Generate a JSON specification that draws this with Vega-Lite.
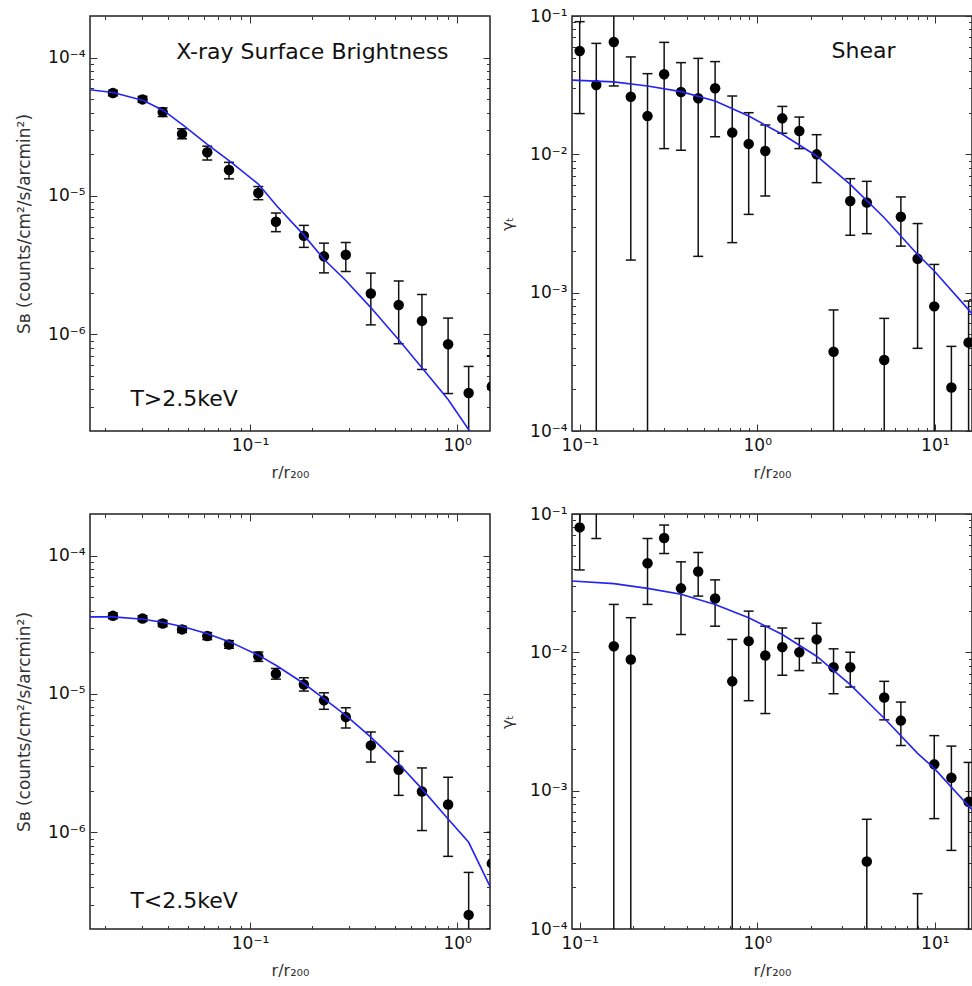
{
  "$schema": "https://vega.github.io/schema/vega-lite/v6.json",
  "padding": {"left": 14, "top": 6, "right": 0, "bottom": 0},
  "background": "white",
  "config": {
    "font": "DejaVu Sans",
    "view": {"stroke": "#222", "strokeWidth": 1.5},
    "axis": {"domain": false, "grid": false, "labelFont": "DejaVu Sans", "labelFontSize": 17, "labelColor": "#111", "tickColor": "#333", "tickWidth": 1, "titleFont": "DejaVu Sans", "titleFontWeight": "normal", "titleFontSize": 16, "titleColor": "#333", "labelFlush": false, "labelOverlap": false}
  },
  "datasets": {
    "sbHot": [
      {"r": 0.0218, "v": 5.55e-5, "lo": 5.3e-5, "hi": 5.8e-5},
      {"r": 0.0303, "v": 4.99e-5, "lo": 4.75e-5, "hi": 5.25e-5},
      {"r": 0.0379, "v": 4.04e-5, "lo": 3.75e-5, "hi": 4.33e-5},
      {"r": 0.047, "v": 2.81e-5, "lo": 2.59e-5, "hi": 3.06e-5},
      {"r": 0.0622, "v": 2.07e-5, "lo": 1.82e-5, "hi": 2.29e-5},
      {"r": 0.0792, "v": 1.54e-5, "lo": 1.33e-5, "hi": 1.75e-5},
      {"r": 0.1097, "v": 1.05e-5, "lo": 9.4e-6, "hi": 1.17e-5},
      {"r": 0.1334, "v": 6.52e-6, "lo": 5.52e-6, "hi": 7.53e-6},
      {"r": 0.182, "v": 5.16e-6, "lo": 4.25e-6, "hi": 6.13e-6},
      {"r": 0.2275, "v": 3.66e-6, "lo": 2.78e-6, "hi": 4.56e-6},
      {"r": 0.29, "v": 3.76e-6, "lo": 2.84e-6, "hi": 4.61e-6},
      {"r": 0.383, "v": 1.97e-6, "lo": 1.17e-6, "hi": 2.77e-6},
      {"r": 0.522, "v": 1.63e-6, "lo": 8.55e-7, "hi": 2.43e-6},
      {"r": 0.676, "v": 1.25e-6, "lo": 5.57e-7, "hi": 1.94e-6},
      {"r": 0.904, "v": 8.47e-7, "lo": 3.73e-7, "hi": 1.31e-6},
      {"r": 1.136, "v": 3.76e-7, "lo": 1e-8, "hi": 5.86e-7},
      {"r": 1.47, "v": 4.2e-7, "lo": 1e-7, "hi": 7.0e-7}
    ],
    "sbCool": [
      {"r": 0.0218, "v": 3.67e-5, "lo": 3.5e-5, "hi": 3.85e-5},
      {"r": 0.0303, "v": 3.51e-5, "lo": 3.35e-5, "hi": 3.68e-5},
      {"r": 0.0379, "v": 3.23e-5, "lo": 3.07e-5, "hi": 3.4e-5},
      {"r": 0.047, "v": 2.93e-5, "lo": 2.78e-5, "hi": 3.09e-5},
      {"r": 0.0622, "v": 2.62e-5, "lo": 2.47e-5, "hi": 2.78e-5},
      {"r": 0.0792, "v": 2.28e-5, "lo": 2.14e-5, "hi": 2.43e-5},
      {"r": 0.1097, "v": 1.87e-5, "lo": 1.72e-5, "hi": 2.01e-5},
      {"r": 0.1334, "v": 1.40e-5, "lo": 1.28e-5, "hi": 1.53e-5},
      {"r": 0.182, "v": 1.17e-5, "lo": 1.05e-5, "hi": 1.31e-5},
      {"r": 0.2275, "v": 8.99e-6, "lo": 7.75e-6, "hi": 1.02e-5},
      {"r": 0.29, "v": 6.81e-6, "lo": 5.67e-6, "hi": 7.96e-6},
      {"r": 0.383, "v": 4.25e-6, "lo": 3.22e-6, "hi": 5.31e-6},
      {"r": 0.522, "v": 2.83e-6, "lo": 1.85e-6, "hi": 3.85e-6},
      {"r": 0.676, "v": 1.97e-6, "lo": 1.03e-6, "hi": 2.92e-6},
      {"r": 0.904, "v": 1.59e-6, "lo": 6.7e-7, "hi": 2.5e-6},
      {"r": 1.136, "v": 2.53e-7, "lo": 1e-8, "hi": 5.13e-7},
      {"r": 1.47, "v": 5.96e-7, "lo": 2e-7, "hi": 1.0e-6}
    ],
    "shHot": [
      {"r": 0.1, "v": 0.0558, "lo": 0.0197, "hi": 0.091},
      {"r": 0.124, "v": 0.0317, "lo": 1e-6, "hi": 0.0634},
      {"r": 0.1556, "v": 0.0649, "lo": 0.0312, "hi": 0.105},
      {"r": 0.194, "v": 0.0261, "lo": 0.00172, "hi": 0.0506},
      {"r": 0.241, "v": 0.0189, "lo": 1e-6, "hi": 0.0383},
      {"r": 0.299, "v": 0.0379, "lo": 0.011, "hi": 0.0645},
      {"r": 0.372, "v": 0.0282, "lo": 0.0107, "hi": 0.046},
      {"r": 0.465, "v": 0.0254, "lo": 0.00183, "hi": 0.0494},
      {"r": 0.579, "v": 0.030, "lo": 0.0134, "hi": 0.0468},
      {"r": 0.723, "v": 0.01436, "lo": 0.0023, "hi": 0.0264},
      {"r": 0.895, "v": 0.0119, "lo": 0.00368, "hi": 0.02},
      {"r": 1.11, "v": 0.01056, "lo": 0.005, "hi": 0.0163},
      {"r": 1.384, "v": 0.0182, "lo": 0.0142, "hi": 0.0222},
      {"r": 1.726, "v": 0.01476, "lo": 0.011, "hi": 0.0186},
      {"r": 2.16, "v": 0.01, "lo": 0.00624, "hi": 0.01387},
      {"r": 2.69, "v": 3.74e-4, "lo": 1e-6, "hi": 7.5e-4},
      {"r": 3.34, "v": 0.0046, "lo": 0.0026, "hi": 0.00667},
      {"r": 4.14, "v": 0.00448, "lo": 0.00267, "hi": 0.00638},
      {"r": 5.19, "v": 3.26e-4, "lo": 1e-6, "hi": 6.52e-4},
      {"r": 6.44, "v": 0.00354, "lo": 0.00217, "hi": 0.00492},
      {"r": 8.0, "v": 0.00176, "lo": 3.96e-4, "hi": 0.00316},
      {"r": 9.93, "v": 7.96e-4, "lo": 1e-6, "hi": 0.0016},
      {"r": 12.4, "v": 2.06e-4, "lo": 1e-6, "hi": 4.09e-4},
      {"r": 15.5, "v": 4.36e-4, "lo": 1e-6, "hi": 8.7e-4}
    ],
    "shCool": [
      {"r": 0.1, "v": 0.080, "lo": 0.0394, "hi": 0.13},
      {"r": 0.124, "v": 0.14, "lo": 0.0665, "hi": 0.25},
      {"r": 0.1556, "v": 0.01107, "lo": 1e-6, "hi": 0.0222},
      {"r": 0.194, "v": 0.00887, "lo": 1e-6, "hi": 0.0178},
      {"r": 0.241, "v": 0.0441, "lo": 0.0222, "hi": 0.0665},
      {"r": 0.299, "v": 0.067, "lo": 0.0518, "hi": 0.0832},
      {"r": 0.372, "v": 0.029, "lo": 0.01345, "hi": 0.0451},
      {"r": 0.465, "v": 0.0384, "lo": 0.0255, "hi": 0.0527},
      {"r": 0.579, "v": 0.0245, "lo": 0.01545, "hi": 0.0334},
      {"r": 0.723, "v": 0.00617, "lo": 1e-6, "hi": 0.0124},
      {"r": 0.895, "v": 0.01205, "lo": 0.00447, "hi": 0.01986},
      {"r": 1.11, "v": 0.00948, "lo": 0.00361, "hi": 0.01545},
      {"r": 1.384, "v": 0.0109, "lo": 0.00683, "hi": 0.015},
      {"r": 1.726, "v": 0.01002, "lo": 0.00738, "hi": 0.0126},
      {"r": 2.16, "v": 0.0124, "lo": 0.00838, "hi": 0.01625},
      {"r": 2.69, "v": 0.0078, "lo": 0.00502, "hi": 0.0106},
      {"r": 3.34, "v": 0.0078, "lo": 0.00561, "hi": 0.01002},
      {"r": 4.14, "v": 3.08e-4, "lo": 1e-6, "hi": 6.21e-4},
      {"r": 5.19, "v": 0.00472, "lo": 0.00325, "hi": 0.00617},
      {"r": 6.44, "v": 0.00321, "lo": 0.00212, "hi": 0.00437},
      {"r": 8.0, "v": 5e-5, "lo": 1e-6, "hi": 1.8e-4},
      {"r": 9.93, "v": 0.00155, "lo": 6.28e-4, "hi": 0.0025},
      {"r": 12.4, "v": 0.00124, "lo": 3.7e-4, "hi": 0.0021},
      {"r": 15.5, "v": 8.3e-4, "lo": 1e-6, "hi": 0.0016}
    ],
    "sbHotModel": [
      {"r": 0.0169, "v": 5.86e-5}, {"r": 0.0218, "v": 5.6e-5}, {"r": 0.0306, "v": 4.9e-5}, {"r": 0.0382, "v": 4.15e-5},
      {"r": 0.0477, "v": 3.24e-5}, {"r": 0.0618, "v": 2.38e-5}, {"r": 0.0801, "v": 1.78e-5}, {"r": 0.1097, "v": 1.22e-5},
      {"r": 0.1345, "v": 8.5e-6}, {"r": 0.182, "v": 5.21e-6}, {"r": 0.2275, "v": 3.49e-6}, {"r": 0.29, "v": 2.45e-6},
      {"r": 0.383, "v": 1.56e-6}, {"r": 0.528, "v": 8.95e-7}, {"r": 0.676, "v": 5.73e-7}, {"r": 0.904, "v": 3.38e-7},
      {"r": 1.148, "v": 2e-7}, {"r": 1.46, "v": 1.18e-7}
    ],
    "sbCoolModel": [
      {"r": 0.0169, "v": 3.61e-5}, {"r": 0.0218, "v": 3.61e-5}, {"r": 0.0306, "v": 3.47e-5}, {"r": 0.0382, "v": 3.29e-5},
      {"r": 0.0477, "v": 3.06e-5}, {"r": 0.0618, "v": 2.74e-5}, {"r": 0.0801, "v": 2.38e-5}, {"r": 0.1097, "v": 1.91e-5},
      {"r": 0.1345, "v": 1.6e-5}, {"r": 0.182, "v": 1.19e-5}, {"r": 0.2275, "v": 9.25e-6}, {"r": 0.29, "v": 7.0e-6},
      {"r": 0.383, "v": 4.88e-6}, {"r": 0.522, "v": 3.13e-6}, {"r": 0.676, "v": 2.06e-6}, {"r": 0.904, "v": 1.25e-6},
      {"r": 1.136, "v": 8.47e-7}, {"r": 1.46, "v": 3.9e-7}
    ],
    "shHotModel": [
      {"r": 0.0905, "v": 0.0344}, {"r": 0.1556, "v": 0.0334}, {"r": 0.241, "v": 0.0312}, {"r": 0.372, "v": 0.0284},
      {"r": 0.579, "v": 0.0243}, {"r": 0.895, "v": 0.0189}, {"r": 1.384, "v": 0.01396}, {"r": 2.16, "v": 0.00973},
      {"r": 3.34, "v": 0.00607}, {"r": 5.19, "v": 0.00348}, {"r": 8.0, "v": 0.00189}, {"r": 9.93, "v": 0.001435},
      {"r": 16.3, "v": 7.0e-4}
    ],
    "shCoolModel": [
      {"r": 0.0905, "v": 0.0328}, {"r": 0.1556, "v": 0.0314}, {"r": 0.241, "v": 0.029}, {"r": 0.372, "v": 0.0263},
      {"r": 0.579, "v": 0.0222}, {"r": 0.895, "v": 0.0178}, {"r": 1.384, "v": 0.01345}, {"r": 2.16, "v": 0.00937},
      {"r": 3.34, "v": 0.00584}, {"r": 5.19, "v": 0.00334}, {"r": 8.0, "v": 0.00186}, {"r": 9.93, "v": 0.00145},
      {"r": 16.3, "v": 7.23e-4}
    ],
    "labHot": [
      {"r": 0.2, "v": 1.09e-4, "label": "X-ray Surface Brightness"},
      {"r": 0.0481, "v": 3.4e-7, "label": "T>2.5keV"}
    ],
    "labCool": [
      {"r": 0.0481, "v": 3.21e-7, "label": "T<2.5keV"}
    ],
    "labShear": [
      {"r": 3.97, "v": 0.0558, "label": "Shear"}
    ]
  },
  "columns": 2,
  "spacing": {"row": 83, "column": 82},
  "bounds": "flush",
  "concat": [
    {
      "width": 400, "height": 415,
      "data": {"name": "sbHot"},
      "resolve": {"axis": {"x": "independent", "y": "independent"}},
      "layer": [
        {"mark": {"type": "rule", "clip": true, "color": "#111", "strokeWidth": 1.5},
         "encoding": {
           "x": {"field": "r", "type": "quantitative", "scale": {"type": "log", "domain": [0.0169, 1.44], "nice": false},
                 "axis": {"orient": "bottom", "values": [0.1, 1], "labelExpr": "datum.value < 0.5 ? '10⁻¹' : '10⁰'", "tickSize": -7, "labelPadding": 13, "title": "r/r₂₀₀", "titlePadding": 11}},
           "y": {"field": "lo", "type": "quantitative", "scale": {"type": "log", "domain": [2e-7, 2e-4], "nice": false},
                 "axis": {"orient": "left", "values": [1e-6, 1e-5, 1e-4], "labelExpr": "datum.value < 5e-6 ? '10⁻⁶' : datum.value < 5e-5 ? '10⁻⁵' : '10⁻⁴'", "tickSize": -7, "labelPadding": 12, "title": "Sʙ (counts/cm²/s/arcmin²)", "titleFontSize": 17, "titlePadding": 14}},
           "y2": {"field": "hi"}}},
        {"mark": {"type": "tick", "clip": true, "orient": "horizontal", "color": "#111", "size": 10, "thickness": 1.5, "opacity": 1},
         "encoding": {
           "x": {"field": "r", "type": "quantitative", "scale": {"type": "log", "domain": [0.0169, 1.44], "nice": false},
                 "axis": {"orient": "bottom", "values": [0.02, 0.03, 0.04, 0.05, 0.06, 0.07, 0.08, 0.09, 0.2, 0.3, 0.4, 0.5, 0.6, 0.7, 0.8, 0.9], "labels": false, "tickSize": -3.5, "title": null}},
           "y": {"field": "hi", "type": "quantitative", "scale": {"type": "log", "domain": [2e-7, 2e-4], "nice": false},
                 "axis": {"orient": "left", "values": [3e-7, 4e-7, 5e-7, 6e-7, 7e-7, 8e-7, 9e-7, 2e-6, 3e-6, 4e-6, 5e-6, 6e-6, 7e-6, 8e-6, 9e-6, 2e-5, 3e-5, 4e-5, 5e-5, 6e-5, 7e-5, 8e-5, 9e-5], "labels": false, "tickSize": -3.5, "title": null}}}},
        {"mark": {"type": "tick", "clip": true, "orient": "horizontal", "color": "#111", "size": 10, "thickness": 1.5, "opacity": 1},
         "encoding": {
           "x": {"field": "r", "type": "quantitative", "scale": {"type": "log", "domain": [0.0169, 1.44], "nice": false},
                 "axis": {"orient": "top", "values": [0.1, 1], "labels": false, "tickSize": -7, "title": null}},
           "y": {"field": "lo", "type": "quantitative", "scale": {"type": "log", "domain": [2e-7, 2e-4], "nice": false},
                 "axis": {"orient": "right", "values": [1e-6, 1e-5, 1e-4], "labels": false, "tickSize": -7, "title": null}}}},
        {"mark": {"type": "circle", "clip": true, "color": "#000", "size": 110, "opacity": 1},
         "encoding": {
           "x": {"field": "r", "type": "quantitative", "scale": {"type": "log", "domain": [0.0169, 1.44], "nice": false},
                 "axis": {"orient": "top", "values": [0.02, 0.03, 0.04, 0.05, 0.06, 0.07, 0.08, 0.09, 0.2, 0.3, 0.4, 0.5, 0.6, 0.7, 0.8, 0.9], "labels": false, "tickSize": -3.5, "title": null}},
           "y": {"field": "v", "type": "quantitative", "scale": {"type": "log", "domain": [2e-7, 2e-4], "nice": false},
                 "axis": {"orient": "right", "values": [3e-7, 4e-7, 5e-7, 6e-7, 7e-7, 8e-7, 9e-7, 2e-6, 3e-6, 4e-6, 5e-6, 6e-6, 7e-6, 8e-6, 9e-6, 2e-5, 3e-5, 4e-5, 5e-5, 6e-5, 7e-5, 8e-5, 9e-5], "labels": false, "tickSize": -3.5, "title": null}}}},
        {"data": {"name": "sbHotModel"},
         "mark": {"type": "line", "clip": true, "color": "#2424f2", "strokeWidth": 1.6},
         "encoding": {
           "x": {"field": "r", "type": "quantitative", "scale": {"type": "log", "domain": [0.0169, 1.44], "nice": false}, "axis": null},
           "y": {"field": "v", "type": "quantitative", "scale": {"type": "log", "domain": [2e-7, 2e-4], "nice": false}, "axis": null}}},
        {"data": {"name": "labHot"},
         "mark": {"type": "text", "fontSize": 22, "align": "center", "baseline": "middle", "color": "#111", "font": "DejaVu Sans"},
         "encoding": {
           "x": {"field": "r", "type": "quantitative", "scale": {"type": "log", "domain": [0.0169, 1.44], "nice": false}, "axis": null},
           "y": {"field": "v", "type": "quantitative", "scale": {"type": "log", "domain": [2e-7, 2e-4], "nice": false}, "axis": null},
           "text": {"field": "label"}}}
      ]
    },
    {
      "width": 400, "height": 415,
      "data": {"name": "shHot"},
      "resolve": {"axis": {"x": "independent", "y": "independent"}},
      "layer": [
        {"mark": {"type": "rule", "clip": true, "color": "#111", "strokeWidth": 1.5},
         "encoding": {
           "x": {"field": "r", "type": "quantitative", "scale": {"type": "log", "domain": [0.0905, 16.2], "nice": false},
                 "axis": {"orient": "bottom", "values": [0.1, 1, 10], "labelExpr": "datum.value < 0.5 ? '10⁻¹' : datum.value < 5 ? '10⁰' : '10¹'", "tickSize": -7, "labelPadding": 13, "title": "r/r₂₀₀", "titlePadding": 11}},
           "y": {"field": "lo", "type": "quantitative", "scale": {"type": "log", "domain": [1e-4, 0.1], "nice": false},
                 "axis": {"orient": "left", "values": [1e-4, 1e-3, 1e-2, 1e-1], "labelExpr": "datum.value < 5e-4 ? '10⁻⁴' : datum.value < 5e-3 ? '10⁻³' : datum.value < 5e-2 ? '10⁻²' : '10⁻¹'", "tickSize": -7, "labelPadding": 12, "title": "γₜ", "titleFontSize": 16, "titlePadding": 14}},
           "y2": {"field": "hi"}}},
        {"mark": {"type": "tick", "clip": true, "orient": "horizontal", "color": "#111", "size": 10, "thickness": 1.5, "opacity": 1},
         "encoding": {
           "x": {"field": "r", "type": "quantitative", "scale": {"type": "log", "domain": [0.0905, 16.2], "nice": false},
                 "axis": {"orient": "bottom", "values": [0.2, 0.3, 0.4, 0.5, 0.6, 0.7, 0.8, 0.9, 2, 3, 4, 5, 6, 7, 8, 9], "labels": false, "tickSize": -3.5, "title": null}},
           "y": {"field": "hi", "type": "quantitative", "scale": {"type": "log", "domain": [1e-4, 0.1], "nice": false},
                 "axis": {"orient": "left", "values": [2e-4, 3e-4, 4e-4, 5e-4, 6e-4, 7e-4, 8e-4, 9e-4, 2e-3, 3e-3, 4e-3, 5e-3, 6e-3, 7e-3, 8e-3, 9e-3, 0.02, 0.03, 0.04, 0.05, 0.06, 0.07, 0.08, 0.09], "labels": false, "tickSize": -3.5, "title": null}}}},
        {"mark": {"type": "tick", "clip": true, "orient": "horizontal", "color": "#111", "size": 10, "thickness": 1.5, "opacity": 1},
         "encoding": {
           "x": {"field": "r", "type": "quantitative", "scale": {"type": "log", "domain": [0.0905, 16.2], "nice": false},
                 "axis": {"orient": "top", "values": [0.1, 1, 10], "labels": false, "tickSize": -7, "title": null}},
           "y": {"field": "lo", "type": "quantitative", "scale": {"type": "log", "domain": [1e-4, 0.1], "nice": false},
                 "axis": {"orient": "right", "values": [1e-4, 1e-3, 1e-2, 1e-1], "labels": false, "tickSize": -7, "title": null}}}},
        {"mark": {"type": "circle", "clip": true, "color": "#000", "size": 110, "opacity": 1},
         "encoding": {
           "x": {"field": "r", "type": "quantitative", "scale": {"type": "log", "domain": [0.0905, 16.2], "nice": false},
                 "axis": {"orient": "top", "values": [0.2, 0.3, 0.4, 0.5, 0.6, 0.7, 0.8, 0.9, 2, 3, 4, 5, 6, 7, 8, 9], "labels": false, "tickSize": -3.5, "title": null}},
           "y": {"field": "v", "type": "quantitative", "scale": {"type": "log", "domain": [1e-4, 0.1], "nice": false},
                 "axis": {"orient": "right", "values": [2e-4, 3e-4, 4e-4, 5e-4, 6e-4, 7e-4, 8e-4, 9e-4, 2e-3, 3e-3, 4e-3, 5e-3, 6e-3, 7e-3, 8e-3, 9e-3, 0.02, 0.03, 0.04, 0.05, 0.06, 0.07, 0.08, 0.09], "labels": false, "tickSize": -3.5, "title": null}}}},
        {"data": {"name": "shHotModel"},
         "mark": {"type": "line", "clip": true, "color": "#2424f2", "strokeWidth": 1.6},
         "encoding": {
           "x": {"field": "r", "type": "quantitative", "scale": {"type": "log", "domain": [0.0905, 16.2], "nice": false}, "axis": null},
           "y": {"field": "v", "type": "quantitative", "scale": {"type": "log", "domain": [1e-4, 0.1], "nice": false}, "axis": null}}},
        {"data": {"name": "labShear"},
         "mark": {"type": "text", "fontSize": 22, "align": "center", "baseline": "middle", "color": "#111", "font": "DejaVu Sans"},
         "encoding": {
           "x": {"field": "r", "type": "quantitative", "scale": {"type": "log", "domain": [0.0905, 16.2], "nice": false}, "axis": null},
           "y": {"field": "v", "type": "quantitative", "scale": {"type": "log", "domain": [1e-4, 0.1], "nice": false}, "axis": null},
           "text": {"field": "label"}}}
      ]
    },
    {
      "width": 400, "height": 415,
      "data": {"name": "sbCool"},
      "resolve": {"axis": {"x": "independent", "y": "independent"}},
      "layer": [
        {"mark": {"type": "rule", "clip": true, "color": "#111", "strokeWidth": 1.5},
         "encoding": {
           "x": {"field": "r", "type": "quantitative", "scale": {"type": "log", "domain": [0.0169, 1.44], "nice": false},
                 "axis": {"orient": "bottom", "values": [0.1, 1], "labelExpr": "datum.value < 0.5 ? '10⁻¹' : '10⁰'", "tickSize": -7, "labelPadding": 13, "title": "r/r₂₀₀", "titlePadding": 11}},
           "y": {"field": "lo", "type": "quantitative", "scale": {"type": "log", "domain": [2e-7, 2e-4], "nice": false},
                 "axis": {"orient": "left", "values": [1e-6, 1e-5, 1e-4], "labelExpr": "datum.value < 5e-6 ? '10⁻⁶' : datum.value < 5e-5 ? '10⁻⁵' : '10⁻⁴'", "tickSize": -7, "labelPadding": 12, "title": "Sʙ (counts/cm²/s/arcmin²)", "titleFontSize": 17, "titlePadding": 14}},
           "y2": {"field": "hi"}}},
        {"mark": {"type": "tick", "clip": true, "orient": "horizontal", "color": "#111", "size": 10, "thickness": 1.5, "opacity": 1},
         "encoding": {
           "x": {"field": "r", "type": "quantitative", "scale": {"type": "log", "domain": [0.0169, 1.44], "nice": false},
                 "axis": {"orient": "bottom", "values": [0.02, 0.03, 0.04, 0.05, 0.06, 0.07, 0.08, 0.09, 0.2, 0.3, 0.4, 0.5, 0.6, 0.7, 0.8, 0.9], "labels": false, "tickSize": -3.5, "title": null}},
           "y": {"field": "hi", "type": "quantitative", "scale": {"type": "log", "domain": [2e-7, 2e-4], "nice": false},
                 "axis": {"orient": "left", "values": [3e-7, 4e-7, 5e-7, 6e-7, 7e-7, 8e-7, 9e-7, 2e-6, 3e-6, 4e-6, 5e-6, 6e-6, 7e-6, 8e-6, 9e-6, 2e-5, 3e-5, 4e-5, 5e-5, 6e-5, 7e-5, 8e-5, 9e-5], "labels": false, "tickSize": -3.5, "title": null}}}},
        {"mark": {"type": "tick", "clip": true, "orient": "horizontal", "color": "#111", "size": 10, "thickness": 1.5, "opacity": 1},
         "encoding": {
           "x": {"field": "r", "type": "quantitative", "scale": {"type": "log", "domain": [0.0169, 1.44], "nice": false},
                 "axis": {"orient": "top", "values": [0.1, 1], "labels": false, "tickSize": -7, "title": null}},
           "y": {"field": "lo", "type": "quantitative", "scale": {"type": "log", "domain": [2e-7, 2e-4], "nice": false},
                 "axis": {"orient": "right", "values": [1e-6, 1e-5, 1e-4], "labels": false, "tickSize": -7, "title": null}}}},
        {"mark": {"type": "circle", "clip": true, "color": "#000", "size": 110, "opacity": 1},
         "encoding": {
           "x": {"field": "r", "type": "quantitative", "scale": {"type": "log", "domain": [0.0169, 1.44], "nice": false},
                 "axis": {"orient": "top", "values": [0.02, 0.03, 0.04, 0.05, 0.06, 0.07, 0.08, 0.09, 0.2, 0.3, 0.4, 0.5, 0.6, 0.7, 0.8, 0.9], "labels": false, "tickSize": -3.5, "title": null}},
           "y": {"field": "v", "type": "quantitative", "scale": {"type": "log", "domain": [2e-7, 2e-4], "nice": false},
                 "axis": {"orient": "right", "values": [3e-7, 4e-7, 5e-7, 6e-7, 7e-7, 8e-7, 9e-7, 2e-6, 3e-6, 4e-6, 5e-6, 6e-6, 7e-6, 8e-6, 9e-6, 2e-5, 3e-5, 4e-5, 5e-5, 6e-5, 7e-5, 8e-5, 9e-5], "labels": false, "tickSize": -3.5, "title": null}}}},
        {"data": {"name": "sbCoolModel"},
         "mark": {"type": "line", "clip": true, "color": "#2424f2", "strokeWidth": 1.6},
         "encoding": {
           "x": {"field": "r", "type": "quantitative", "scale": {"type": "log", "domain": [0.0169, 1.44], "nice": false}, "axis": null},
           "y": {"field": "v", "type": "quantitative", "scale": {"type": "log", "domain": [2e-7, 2e-4], "nice": false}, "axis": null}}},
        {"data": {"name": "labCool"},
         "mark": {"type": "text", "fontSize": 22, "align": "center", "baseline": "middle", "color": "#111", "font": "DejaVu Sans"},
         "encoding": {
           "x": {"field": "r", "type": "quantitative", "scale": {"type": "log", "domain": [0.0169, 1.44], "nice": false}, "axis": null},
           "y": {"field": "v", "type": "quantitative", "scale": {"type": "log", "domain": [2e-7, 2e-4], "nice": false}, "axis": null},
           "text": {"field": "label"}}}
      ]
    },
    {
      "width": 400, "height": 415,
      "data": {"name": "shCool"},
      "resolve": {"axis": {"x": "independent", "y": "independent"}},
      "layer": [
        {"mark": {"type": "rule", "clip": true, "color": "#111", "strokeWidth": 1.5},
         "encoding": {
           "x": {"field": "r", "type": "quantitative", "scale": {"type": "log", "domain": [0.0905, 16.2], "nice": false},
                 "axis": {"orient": "bottom", "values": [0.1, 1, 10], "labelExpr": "datum.value < 0.5 ? '10⁻¹' : datum.value < 5 ? '10⁰' : '10¹'", "tickSize": -7, "labelPadding": 13, "title": "r/r₂₀₀", "titlePadding": 11}},
           "y": {"field": "lo", "type": "quantitative", "scale": {"type": "log", "domain": [1e-4, 0.1], "nice": false},
                 "axis": {"orient": "left", "values": [1e-4, 1e-3, 1e-2, 1e-1], "labelExpr": "datum.value < 5e-4 ? '10⁻⁴' : datum.value < 5e-3 ? '10⁻³' : datum.value < 5e-2 ? '10⁻²' : '10⁻¹'", "tickSize": -7, "labelPadding": 12, "title": "γₜ", "titleFontSize": 16, "titlePadding": 14}},
           "y2": {"field": "hi"}}},
        {"mark": {"type": "tick", "clip": true, "orient": "horizontal", "color": "#111", "size": 10, "thickness": 1.5, "opacity": 1},
         "encoding": {
           "x": {"field": "r", "type": "quantitative", "scale": {"type": "log", "domain": [0.0905, 16.2], "nice": false},
                 "axis": {"orient": "bottom", "values": [0.2, 0.3, 0.4, 0.5, 0.6, 0.7, 0.8, 0.9, 2, 3, 4, 5, 6, 7, 8, 9], "labels": false, "tickSize": -3.5, "title": null}},
           "y": {"field": "hi", "type": "quantitative", "scale": {"type": "log", "domain": [1e-4, 0.1], "nice": false},
                 "axis": {"orient": "left", "values": [2e-4, 3e-4, 4e-4, 5e-4, 6e-4, 7e-4, 8e-4, 9e-4, 2e-3, 3e-3, 4e-3, 5e-3, 6e-3, 7e-3, 8e-3, 9e-3, 0.02, 0.03, 0.04, 0.05, 0.06, 0.07, 0.08, 0.09], "labels": false, "tickSize": -3.5, "title": null}}}},
        {"mark": {"type": "tick", "clip": true, "orient": "horizontal", "color": "#111", "size": 10, "thickness": 1.5, "opacity": 1},
         "encoding": {
           "x": {"field": "r", "type": "quantitative", "scale": {"type": "log", "domain": [0.0905, 16.2], "nice": false},
                 "axis": {"orient": "top", "values": [0.1, 1, 10], "labels": false, "tickSize": -7, "title": null}},
           "y": {"field": "lo", "type": "quantitative", "scale": {"type": "log", "domain": [1e-4, 0.1], "nice": false},
                 "axis": {"orient": "right", "values": [1e-4, 1e-3, 1e-2, 1e-1], "labels": false, "tickSize": -7, "title": null}}}},
        {"mark": {"type": "circle", "clip": true, "color": "#000", "size": 110, "opacity": 1},
         "encoding": {
           "x": {"field": "r", "type": "quantitative", "scale": {"type": "log", "domain": [0.0905, 16.2], "nice": false},
                 "axis": {"orient": "top", "values": [0.2, 0.3, 0.4, 0.5, 0.6, 0.7, 0.8, 0.9, 2, 3, 4, 5, 6, 7, 8, 9], "labels": false, "tickSize": -3.5, "title": null}},
           "y": {"field": "v", "type": "quantitative", "scale": {"type": "log", "domain": [1e-4, 0.1], "nice": false},
                 "axis": {"orient": "right", "values": [2e-4, 3e-4, 4e-4, 5e-4, 6e-4, 7e-4, 8e-4, 9e-4, 2e-3, 3e-3, 4e-3, 5e-3, 6e-3, 7e-3, 8e-3, 9e-3, 0.02, 0.03, 0.04, 0.05, 0.06, 0.07, 0.08, 0.09], "labels": false, "tickSize": -3.5, "title": null}}}},
        {"data": {"name": "shCoolModel"},
         "mark": {"type": "line", "clip": true, "color": "#2424f2", "strokeWidth": 1.6},
         "encoding": {
           "x": {"field": "r", "type": "quantitative", "scale": {"type": "log", "domain": [0.0905, 16.2], "nice": false}, "axis": null},
           "y": {"field": "v", "type": "quantitative", "scale": {"type": "log", "domain": [1e-4, 0.1], "nice": false}, "axis": null}}}
      ]
    }
  ]
}
